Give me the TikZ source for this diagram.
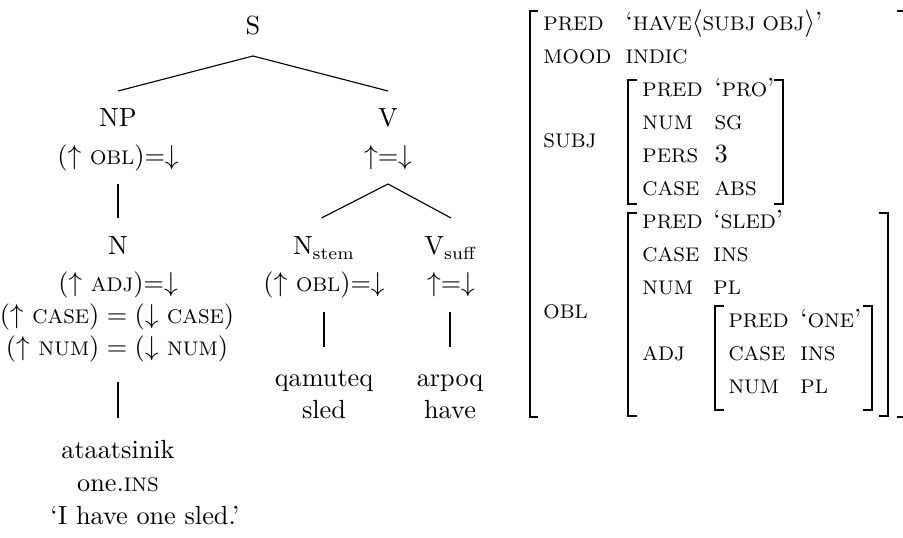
\documentclass[tikz,border=0pt]{standalone}
\newcommand\fsc[1]{{\fontsize{7.9}{9}\selectfont\uppercase{#1}}}
\begin{document}
\begin{tikzpicture}[x=0.4pt,y=-0.4pt,
  lab/.style={anchor=base,inner sep=0pt,font=\fontsize{10.5}{12}\selectfont},
  av/.style={anchor=base west,inner sep=0pt,font=\fontsize{10.5}{12}\selectfont},
  edge/.style={line width=0.45pt},
  brk/.style={line width=0.85pt}]
\useasboundingbox (0,0) rectangle (903,538);
% ---------------- tree ----------------
\node[lab] (S)   at (253,35)  {S};
\node[lab] (NP)  at (118,127) {NP};
\node[lab] (NPa) at (118,165) {($\uparrow$ \fsc{obl})=$\downarrow$};
\node[lab] (V)   at (388,127) {V};
\node[lab] (Va)  at (388,165) {$\uparrow$=$\downarrow$};
\node[lab] (N)   at (118,255) {N};
\node[lab] (Na)  at (118,292) {($\uparrow$ \fsc{adj})=$\downarrow$};
\node[lab] (Nb)  at (117,324) {($\uparrow$ \fsc{case})\hspace{0.28em}=\hspace{0.28em}($\downarrow$ \fsc{case})};
\node[lab] (Nc)  at (117,356) {($\uparrow$ \fsc{num})\hspace{0.28em}=\hspace{0.28em}($\downarrow$ \fsc{num})};
\node[lab] (ata) at (118,459) {ataatsinik};
\node[lab] (one) at (118,492) {one.\fsc{ins}};
\node[av]  (tr)  at (50,525)  {‘I have one sled.’};
\node[lab] (Ns)  at (324,255) {N$_\mathrm{stem}$};
\node[lab] (Nsa) at (324,292) {($\uparrow$ \fsc{obl})=$\downarrow$};
\node[lab] (Vs)  at (451,255) {V$_\mathrm{suff}$};
\node[lab] (Vsa) at (451,292) {$\uparrow$=$\downarrow$};
\node[lab] (qam) at (324,387) {qamuteq};
\node[lab] (sled) at (324,419) {sled};
\node[lab] (arp) at (450,387) {arpoq};
\node[lab] (hv)  at (450,419) {have};
\draw[edge] ([yshift=-8.4pt]S.base) -- ([yshift=14.4pt]NP.base);
\draw[edge] ([yshift=-8.4pt]S.base) -- ([yshift=14.4pt]V.base);
\draw[edge] ([yshift=-7.6pt]NPa.base) -- ([yshift=14.8pt]N.base);
\draw[edge] ([yshift=-7.6pt]Va.base) -- ([yshift=14.8pt,xshift=-1pt]Ns.base);
\draw[edge] ([yshift=-7.6pt]Va.base) -- ([yshift=14.8pt]Vs.base);
\draw[edge] ([yshift=-10.6pt]Nc.base -| N.base) -- ([yshift=16.4pt]ata.base);
\draw[edge] ([yshift=-8pt]Nsa.base) -- ([yshift=16pt]qam.base);
\draw[edge] ([yshift=-8pt,xshift=-0.4pt]Vsa.base) -- ([yshift=16pt]arp.base);
% ---------------- AVM ----------------
% outer
\node[av] (pred1) at (543,31) {\fsc{pred}};
\node[av] (have1) at (625,31) {‘\fsc{have}$\langle$\fsc{subj obj}$\rangle$’};
\node[av] (mood)  at (543,64) {\fsc{mood}};
\node[av] (indic) at (625,64) {\fsc{indic}};
\node[av] (subj)  at (543,148) {\fsc{subj}};
\node[av] (obl)   at (543,319) {\fsc{obl}};
\draw[brk] (538,11) -- (530,11) -- (530,417) -- (538,417);
\draw[brk] (897,11) -- (905,11) -- (905,417) -- (897,417);
% SUBJ
\node[av] (sp) at (642,97)  {\fsc{pred}};
\node[av] (sn) at (642,130) {\fsc{num}};
\node[av] (sr) at (642,163) {\fsc{pers}};
\node[av] (sc) at (642,196) {\fsc{case}};
\node[av] (spv) at (714,97)  {‘\fsc{pro}’};
\node[av] (snv) at (714,130) {\fsc{sg}};
\node[av] (srv) at (714,163) {3};
\node[av] (scv) at (714,196) {\fsc{abs}};
\draw[brk] (637,80) -- (628,80) -- (628,204) -- (637,204);
\draw[brk] (774,80) -- (783,80) -- (783,204) -- (774,204);
% OBL
\node[av] (op) at (642,229) {\fsc{pred}};
\node[av] (oc) at (642,262) {\fsc{case}};
\node[av] (on) at (642,295) {\fsc{num}};
\node[av] (oa) at (642,361) {\fsc{adj}};
\node[av] (opv) at (713,229) {‘\fsc{sled}’};
\node[av] (ocv) at (713,262) {\fsc{ins}};
\node[av] (onv) at (713,295) {\fsc{pl}};
\draw[brk] (637,213) -- (628,213) -- (628,416) -- (637,416);
\draw[brk] (879,213) -- (888,213) -- (888,416) -- (879,416);
% ADJ
\node[av] (ap) at (728,328) {\fsc{pred}};
\node[av] (ac) at (728,361) {\fsc{case}};
\node[av] (an) at (728,394) {\fsc{num}};
\node[av] (apv) at (800,328) {‘\fsc{one}’};
\node[av] (acv) at (800,361) {\fsc{ins}};
\node[av] (anv) at (800,394) {\fsc{pl}};
\draw[brk] (724,306) -- (715,306) -- (715,410) -- (724,410);
\draw[brk] (863,306) -- (872,306) -- (872,410) -- (863,410);
\end{tikzpicture}
\end{document}
